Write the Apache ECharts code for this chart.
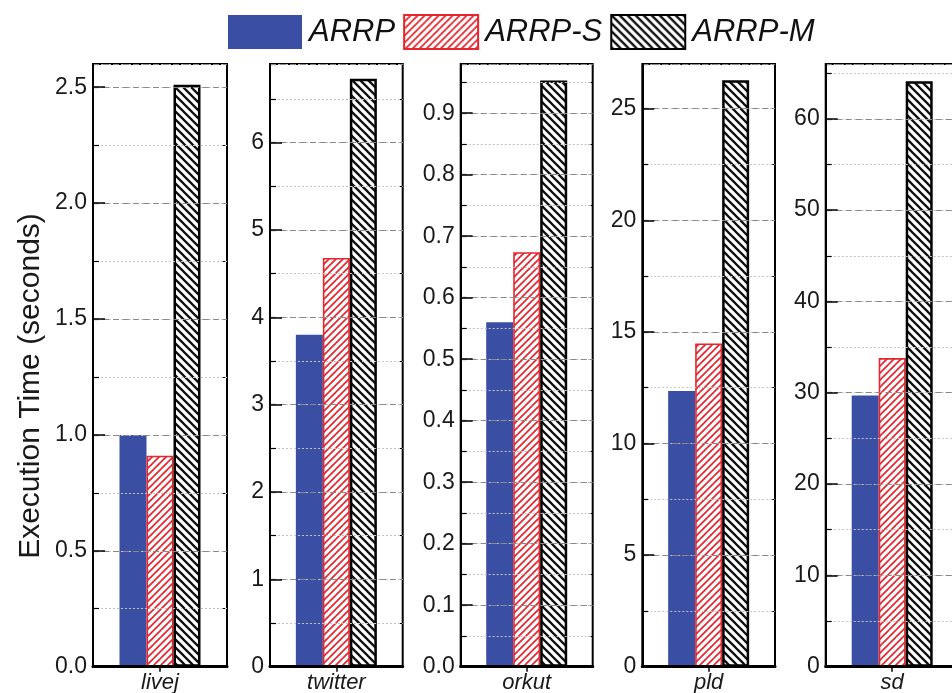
<!DOCTYPE html>
<html><head><meta charset="utf-8">
<script src="https://cdn.jsdelivr.net/npm/echarts@6/dist/echarts.min.js"></script>
<style>html,body{margin:0;padding:0;background:#fff}#c{width:952px;height:693px}</style>
</head><body><div id="c"></div>
<script>
// ---- data ----
const categories = ['livej', 'twitter', 'orkut', 'pld', 'sd'];
const seriesNames = ['ARRP', 'ARRP-S', 'ARRP-M'];
const arrp  = [1.00, 3.80, 0.560, 12.35, 29.7];
const arrpS = [0.91, 4.68, 0.674, 14.48, 33.8];
const arrpM = [2.51, 6.73, 0.953, 26.27, 64.1];
// axis scale per panel
const axisMax   = [2.6, 6.9, 0.98, 27, 66];
const majorStep = [0.5, 1, 0.1, 5, 10];
const minorStep = [0.25, 0.5, 0.05, 2.5, 5];
const labelDecimals = [1, 0, 1, 0, 0];
const yTitle = 'Execution Time (seconds)';

// ---- layout ----
const panelLeft  = [93, 270, 460.7, 642.3, 825.7];
const panelWidth = [134, 132.7, 132, 132.7, 133];
const panelTop = 64, panelHeight = 602.7;
const FONT = '"Liberation Sans", Arial, Helvetica, sans-serif';

function hatch(color, size, lw, dir) {
  const c = document.createElement('canvas');
  c.width = c.height = size;
  const g = c.getContext('2d');
  g.fillStyle = '#fff'; g.fillRect(0, 0, size, size);
  g.strokeStyle = color; g.lineWidth = lw; g.lineCap = 'square';
  g.beginPath();
  for (let k = -1; k <= 1; k++) {
    if (dir === '/') { g.moveTo(k * size, size); g.lineTo(k * size + size, 0); }
    else { g.moveTo(k * size, 0); g.lineTo(k * size + size, size); }
  }
  g.stroke();
  return { image: c, repeat: 'repeat' };
}

const styles = [
  { color: '#3a4fa4' },
  { color: hatch('#e6262e', 7, 1.7, '/'), borderColor: '#e6262e', borderWidth: 1.6 },
  { color: hatch('#111', 8, 2.3, '\\'), borderColor: '#000', borderWidth: 2.5 }
];
const values = [arrp, arrpS, arrpM];

const grids = [], xAxes = [], yAxes = [], series = [];
categories.forEach((cat, i) => {
  grids.push({ left: panelLeft[i], top: panelTop, width: panelWidth[i], height: panelHeight,
    show: true, borderColor: '#000', borderWidth: 2, containLabel: false, outerBoundsMode: 'none' });
  xAxes.push({ gridIndex: i, type: 'category', data: [cat], position: 'bottom',
    axisLine: { show: true, lineStyle: { color: '#000', width: 3 } },
    axisTick: { show: false },
    axisLabel: { fontSize: 22, fontStyle: 'italic', color: '#1a1a1a', margin: 5, fontFamily: FONT },
    splitLine: { show: false }, z: 10 });
  xAxes.push({ gridIndex: i, type: 'category', data: [cat], position: 'top',
    axisLine: { show: false },
    axisTick: { show: true, inside: true, alignWithLabel: true, length: 5, lineStyle: { color: '#000', width: 1.5 } },
    axisLabel: { show: false }, splitLine: { show: false } });
  const d = labelDecimals[i];
  yAxes.push({ gridIndex: i, type: 'value', position: 'left', min: 0, max: axisMax[i], interval: majorStep[i],
    axisLine: { show: true, lineStyle: { color: '#000', width: 2 } },
    axisTick: { show: true, inside: true, length: 12, lineStyle: { color: '#000', width: 1.5 } },
    axisLabel: { showMaxLabel: false, fontSize: 23, color: '#1a1a1a', margin: 6, fontFamily: FONT,
      formatter: v => Number(v).toFixed(d) },
    splitLine: { show: true, lineStyle: { color: '#8a8a8a', type: [6, 4], width: 1 } }, z: 5 });
  yAxes.push({ gridIndex: i, type: 'value', position: 'left', min: 0, max: axisMax[i], interval: minorStep[i],
    axisLine: { show: false },
    axisTick: { show: true, inside: true, length: 6, lineStyle: { color: '#000', width: 1.2 } },
    axisLabel: { show: false },
    splitLine: { show: true, lineStyle: { color: '#c4c4c4', type: [2, 2], width: 1 } }, z: 4 });
  yAxes.push({ gridIndex: i, type: 'value', position: 'right', min: 0, max: axisMax[i], interval: minorStep[i],
    axisLine: { show: false },
    axisTick: { show: true, inside: true, length: 4, lineStyle: { color: '#000', width: 1 } },
    axisLabel: { show: false }, splitLine: { show: false } });
  seriesNames.forEach((name, s) => {
    series.push({ type: 'bar', name, xAxisIndex: 2 * i, yAxisIndex: 3 * i,
      data: [values[s][i]], barWidth: 27, barGap: '0%',
      itemStyle: styles[s], emphasis: { disabled: true } });
  });
});

const chart = echarts.init(document.getElementById('c'), null, { renderer: 'canvas' });
chart.setOption({
  animation: false,
  backgroundColor: '#fff',
  legend: { top: 9, left: 223, itemWidth: 74, itemHeight: 34, itemGap: 8, icon: 'rect',
    selectedMode: false, data: seriesNames,
    textStyle: { fontSize: 31, fontStyle: 'italic', color: '#111', fontFamily: FONT, padding: [0, 0, 0, 2] } },
  grid: grids, xAxis: xAxes, yAxis: yAxes, series,
  graphic: [{ type: 'text', x: 31, y: 386, rotation: Math.PI / 2,
    style: { text: yTitle, fontSize: 30, fontFamily: FONT, fill: '#1a1a1a', align: 'center', verticalAlign: 'middle' } }]
});
</script></body></html>
